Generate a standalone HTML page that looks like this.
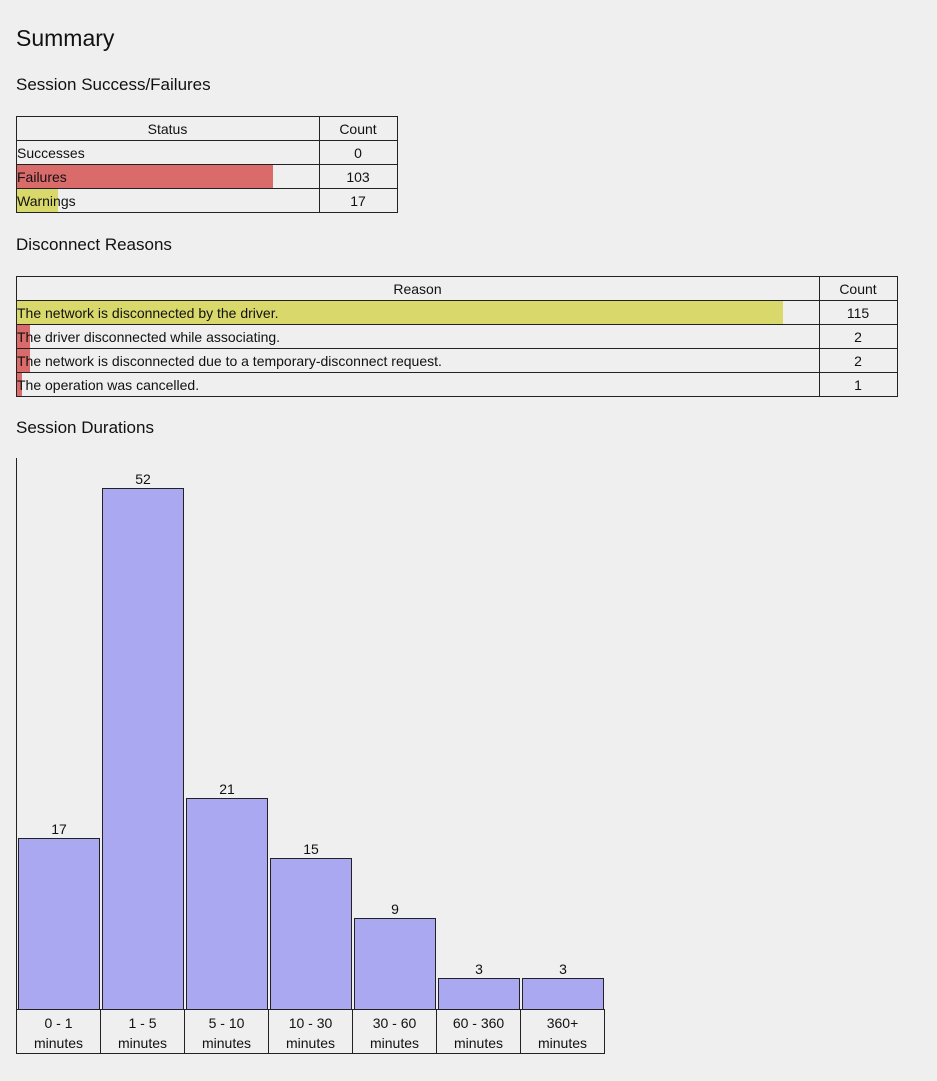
<!DOCTYPE html><html><head><style>
body{margin:0;background:#efefef;font-family:"Liberation Sans",sans-serif;color:#111;width:937px;height:1081px;position:relative;overflow:hidden}
.a{position:absolute}
h1,h2{position:absolute;margin:0;font-weight:normal;white-space:nowrap}
h1{font-size:23px;left:16px;top:25px}
h2{font-size:17px;left:16px}
.box{position:absolute;border:1px solid #222;box-sizing:border-box}
.t{position:absolute;font-size:14px;line-height:24px;white-space:nowrap}
.bar{position:absolute;height:23px}
.c{text-align:center}
.b{position:absolute;background:#aba8f2;border:1px solid #222;box-sizing:border-box;width:82px}
.v{position:absolute;width:82px;text-align:center;font-size:14px}
.lab{position:absolute;top:1009px;width:85px;height:45px;border:1px solid #222;box-sizing:border-box;text-align:center;font-size:14px;line-height:20px;padding-top:3px}
</style></head><body>
<h1>Summary</h1>
<h2 style="top:75px">Session Success/Failures</h2>
<div class="bar" style="left:17px;top:165px;width:256px;background:#d96b6b"></div>
<div class="bar" style="left:17px;top:189px;width:41px;background:#d9d96b"></div>
<div class="box" style="left:16px;top:116px;width:382px;height:97px"></div>
<div class="a" style="left:16px;top:140px;width:382px;border-top:1px solid #222"></div>
<div class="a" style="left:16px;top:164px;width:382px;border-top:1px solid #222"></div>
<div class="a" style="left:16px;top:188px;width:382px;border-top:1px solid #222"></div>
<div class="a" style="left:319px;top:116px;height:97px;border-left:1px solid #222"></div>
<div class="t c" style="left:16px;top:117px;width:303px">Status</div>
<div class="t c" style="left:319px;top:117px;width:78px">Count</div>
<div class="t" style="left:17px;top:141px">Successes</div><div class="t c" style="left:319px;top:141px;width:78px">0</div>
<div class="t" style="left:17px;top:165px">Failures</div><div class="t c" style="left:319px;top:165px;width:78px">103</div>
<div class="t" style="left:17px;top:189px">Warnings</div><div class="t c" style="left:319px;top:189px;width:78px">17</div>

<h2 style="top:235px">Disconnect Reasons</h2>
<div class="bar" style="left:17px;top:301px;width:766px;background:#d9d96b"></div>
<div class="bar" style="left:17px;top:325px;width:13px;background:#d96b6b"></div>
<div class="bar" style="left:17px;top:349px;width:13px;background:#d96b6b"></div>
<div class="bar" style="left:17px;top:373px;width:5px;background:#d96b6b"></div>
<div class="box" style="left:16px;top:276px;width:882px;height:121px"></div>
<div class="a" style="left:16px;top:300px;width:882px;border-top:1px solid #222"></div>
<div class="a" style="left:16px;top:324px;width:882px;border-top:1px solid #222"></div>
<div class="a" style="left:16px;top:348px;width:882px;border-top:1px solid #222"></div>
<div class="a" style="left:16px;top:372px;width:882px;border-top:1px solid #222"></div>
<div class="a" style="left:819px;top:276px;height:121px;border-left:1px solid #222"></div>
<div class="t c" style="left:16px;top:277px;width:803px">Reason</div>
<div class="t c" style="left:819px;top:277px;width:78px">Count</div>
<div class="t" style="left:17px;top:301px">The network is disconnected by the driver.</div><div class="t c" style="left:819px;top:301px;width:78px">115</div>
<div class="t" style="left:17px;top:325px">The driver disconnected while associating.</div><div class="t c" style="left:819px;top:325px;width:78px">2</div>
<div class="t" style="left:17px;top:349px">The network is disconnected due to a temporary-disconnect request.</div><div class="t c" style="left:819px;top:349px;width:78px">2</div>
<div class="t" style="left:17px;top:373px">The operation was cancelled.</div><div class="t c" style="left:819px;top:373px;width:78px">1</div>

<h2 style="top:418px">Session Durations</h2>
<div class="a" style="left:16px;top:458px;height:552px;border-left:1px solid #222"></div>
<div class="b" style="left:18px;top:838px;height:172px"></div><div class="v" style="left:18px;top:821px">17</div>
<div class="b" style="left:102px;top:488px;height:522px"></div><div class="v" style="left:102px;top:471px">52</div>
<div class="b" style="left:186px;top:798px;height:212px"></div><div class="v" style="left:186px;top:781px">21</div>
<div class="b" style="left:270px;top:858px;height:152px"></div><div class="v" style="left:270px;top:841px">15</div>
<div class="b" style="left:354px;top:918px;height:92px"></div><div class="v" style="left:354px;top:901px">9</div>
<div class="b" style="left:438px;top:978px;height:32px"></div><div class="v" style="left:438px;top:961px">3</div>
<div class="b" style="left:522px;top:978px;height:32px"></div><div class="v" style="left:522px;top:961px">3</div>
<div class="lab" style="left:16px">0 - 1<br>minutes</div>
<div class="lab" style="left:100px">1 - 5<br>minutes</div>
<div class="lab" style="left:184px">5 - 10<br>minutes</div>
<div class="lab" style="left:268px">10 - 30<br>minutes</div>
<div class="lab" style="left:352px">30 - 60<br>minutes</div>
<div class="lab" style="left:436px">60 - 360<br>minutes</div>
<div class="lab" style="left:520px">360+<br>minutes</div>
</body></html>
